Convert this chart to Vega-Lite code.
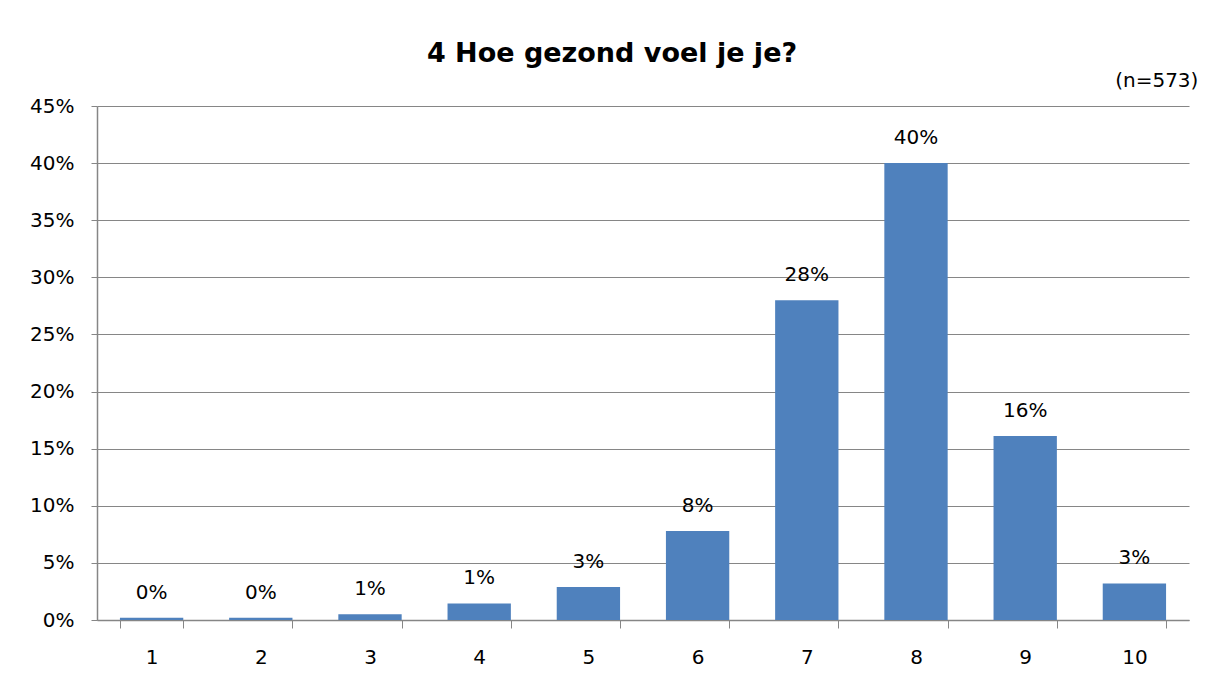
{
  "$schema": "https://vega.github.io/schema/vega-lite/v6.json",
  "width": 1092,
  "height": 514,
  "autosize": {"type": "none"},
  "padding": {"left": 97, "top": 106, "right": 26, "bottom": 62},
  "background": "white",
  "config": {
    "font": "DejaVu Sans",
    "view": {"stroke": null},
    "axis": {"labelFont": "DejaVu Sans", "labelFontSize": 20, "labelColor": "#000000", "titleFont": "DejaVu Sans"}
  },
  "title": {
    "text": "4 Hoe gezond voel je je?",
    "font": "DejaVu Sans",
    "fontSize": 27,
    "fontWeight": "bold",
    "color": "#000000",
    "anchor": "middle",
    "frame": "group",
    "dx": -31,
    "offset": 3
  },
  "data": {
    "values": [
      {"score": "1", "pct": 0.002, "label": "0%", "note": ""},
      {"score": "2", "pct": 0.002, "label": "0%", "note": ""},
      {"score": "3", "pct": 0.005, "label": "1%", "note": ""},
      {"score": "4", "pct": 0.0145, "label": "1%", "note": ""},
      {"score": "5", "pct": 0.029, "label": "3%", "note": ""},
      {"score": "6", "pct": 0.078, "label": "8%", "note": ""},
      {"score": "7", "pct": 0.28, "label": "28%", "note": ""},
      {"score": "8", "pct": 0.40, "label": "40%", "note": ""},
      {"score": "9", "pct": 0.161, "label": "16%", "note": ""},
      {"score": "10", "pct": 0.032, "label": "3%", "note": "(n=573)"}
    ]
  },
  "encoding": {
    "x": {
      "field": "score",
      "type": "ordinal",
      "sort": null,
      "scale": {"paddingInner": 0.42, "paddingOuter": 0.21},
      "axis": {
        "title": null,
        "labelAngle": 0,
        "tickBand": "extent",
        "tickSize": 8,
        "tickColor": "#868686",
        "domainColor": "#868686",
        "domainWidth": 1.5,
        "labelPadding": 19,
        "grid": false
      }
    },
    "y": {
      "field": "pct",
      "type": "quantitative",
      "scale": {"domain": [0, 0.45], "nice": false},
      "axis": {
        "title": null,
        "values": [0, 0.05, 0.1, 0.15, 0.2, 0.25, 0.3, 0.35, 0.4, 0.45],
        "format": ".0%",
        "tickSize": 6,
        "tickColor": "#868686",
        "domainColor": "#868686",
        "domainWidth": 1.5,
        "gridColor": "#868686",
        "gridWidth": 1.2,
        "labelPadding": 17
      }
    }
  },
  "layer": [
    {"mark": {"type": "bar", "color": "#4F81BD"}},
    {
      "mark": {"type": "text", "baseline": "alphabetic", "dy": -19, "fontSize": 20, "color": "#000000", "font": "DejaVu Sans"},
      "encoding": {"text": {"field": "label"}}
    },
    {
      "transform": [{"filter": "datum.note != ''"}],
      "mark": {"type": "text", "align": "right", "baseline": "middle", "dx": 64, "dy": -25, "fontSize": 20, "color": "#000000", "font": "DejaVu Sans"},
      "encoding": {
        "y": {"datum": 0.45},
        "text": {"field": "note"}
      }
    }
  ]
}
